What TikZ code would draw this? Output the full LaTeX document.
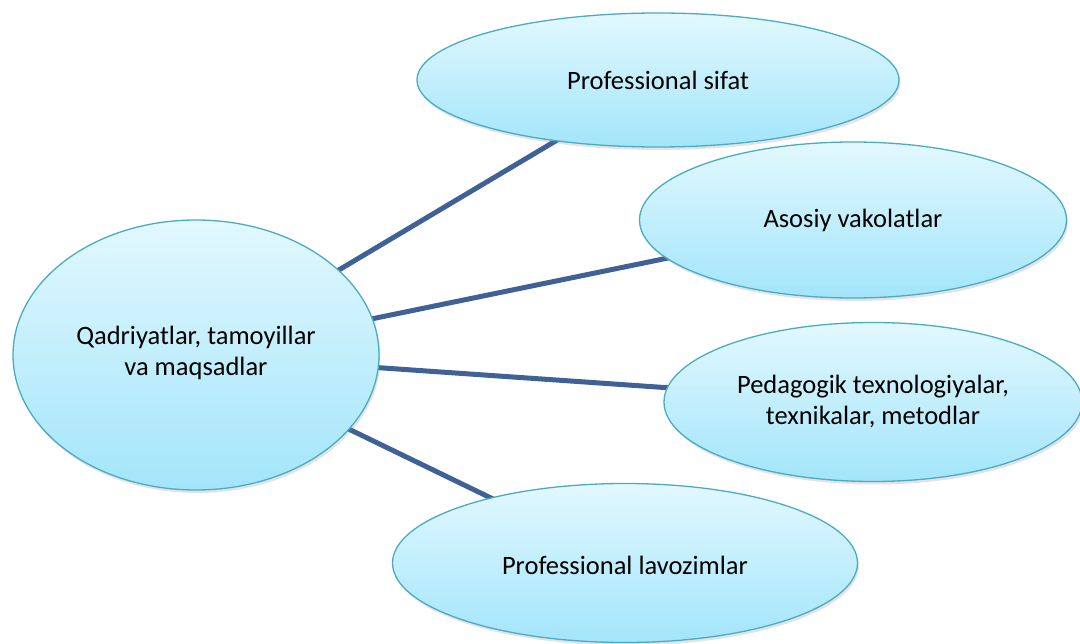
\documentclass[tikz,border=0pt]{standalone}
\usepackage{fontspec}
\setmainfont{Carlito}
\usetikzlibrary{shapes.geometric,shadows,backgrounds}
\definecolor{linkc}{HTML}{3F6196}
\definecolor{topc}{HTML}{E2F8FE}
\definecolor{botc}{HTML}{A3E5FA}
\definecolor{edgec}{HTML}{4AABC4}
\begin{document}
\begin{tikzpicture}[x=1pt,y=-1pt,
  bubble/.style={ellipse, draw=edgec, line width=1.3pt, top color=topc, bottom color=botc,
    inner sep=0pt, drop shadow={opacity=0.22, shadow xshift=1.5pt, shadow yshift=-3pt}},
  txt/.style={align=center, inner sep=0pt, font=\fontsize{26.5}{31}\selectfont},
  link/.style={draw=linkc, line width=5pt}]
\useasboundingbox (0,0) rectangle (1080,644);
\node[bubble, minimum width=366pt, minimum height=270pt] (c) at (196,355) {};
\node[bubble, minimum width=482pt, minimum height=134pt] (a) at (658,80) {};
\node[bubble, minimum width=427pt, minimum height=156pt] (b) at (853,220) {};
\node[bubble, minimum width=418pt, minimum height=159pt] (p) at (873,402) {};
\node[bubble, minimum width=465pt, minimum height=159pt] (l) at (625,563) {};
\node[txt] (ct) at (196,353) {Qadriyatlar, tamoyillar\\va maqsadlar};
\node[txt] (at) at (658,80) {Professional sifat};
\node[txt] (bt) at (853,220) {Asosiy vakolatlar};
\node[txt] (pt) at (873,401) {Pedagogik texnologiyalar,\\texnikalar, metodlar};
\node[txt] (lt) at (625,565) {Professional lavozimlar};
\begin{scope}[on background layer]
\draw[link] (c.center) -- (a.center);
\draw[link] (c.center) -- (b.center);
\draw[link] (c.center) -- (p.center);
\draw[link] (c.center) -- (l.center);
\end{scope}
\end{tikzpicture}
\end{document}
